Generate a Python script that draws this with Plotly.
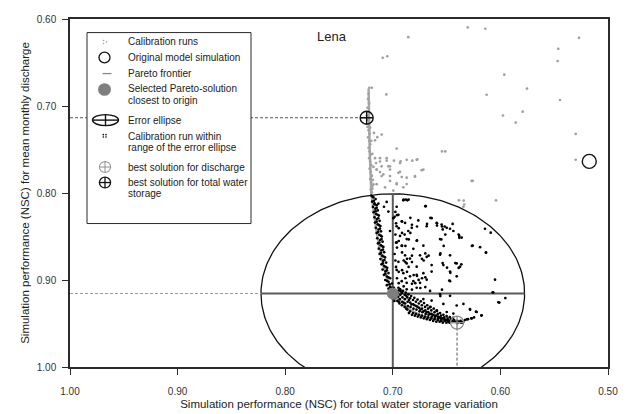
import numpy as np
import plotly.graph_objects as go

# ---------------- data ----------------
x_ticks = [1.00, 0.90, 0.80, 0.70, 0.60, 0.50]
y_ticks = [0.60, 0.70, 0.80, 0.90, 1.00]

# calibration runs outside the error ellipse (grey)
calib_x = [0.6304, 0.6140, 0.6856, 0.5270, 0.5462, 0.5468, 0.7051, 0.7094, 0.5964, 0.5753,
           0.6128, 0.7060, 0.5446, 0.5793, 0.5976, 0.5858, 0.7103, 0.5300, 0.6964, 0.6543,
           0.6512, 0.5300, 0.6257, 0.6385, 0.6336, 0.6041, 0.6341,
           0.7057, 0.6989, 0.6927, 0.6819, 0.6772, 0.7042, 0.6933, 0.6732, 0.7026, 0.6917,
           0.6794, 0.6964, 0.6871, 0.7175, 0.7144, 0.7165, 0.7119, 0.7156, 0.7104, 0.7150,
           0.7119, 0.7026, 0.7196, 0.7104,
           0.7165, 0.7119, 0.7057, 0.7026, 0.6933, 0.6871, 0.6778, 0.7150, 0.7088, 0.7026,
           0.6948, 0.6871, 0.6794, 0.6716, 0.7150, 0.7072, 0.6995, 0.6902, 0.6964, 0.6267,
           0.6344,
           0.7218, 0.7195, 0.7225, 0.7230, 0.7220, 0.7235, 0.7225, 0.7240, 0.7230, 0.7220,
           0.7235, 0.7225, 0.7215, 0.7230, 0.7220, 0.7210, 0.7225, 0.7215, 0.7205, 0.7220,
           0.7210, 0.7200, 0.7215, 0.7205, 0.7195, 0.7210, 0.7200, 0.7190, 0.7205, 0.7195,
           0.7185, 0.7180, 0.7190, 0.7200, 0.7210, 0.7190, 0.7180]
calib_y = [0.6097, 0.6112, 0.6209, 0.6216, 0.6343, 0.6484, 0.6428, 0.6446, 0.6640, 0.6800,
           0.6871, 0.6867, 0.6931, 0.7065, 0.7109, 0.7191, 0.7328, 0.7321, 0.7489, 0.7522,
           0.7522, 0.7618, 0.7860, 0.8084, 0.8132, 0.8084, 0.8087,
           0.7629, 0.7629, 0.7637, 0.7629, 0.7614, 0.7693, 0.7757, 0.7738, 0.7805, 0.7816,
           0.7812, 0.7890, 0.7897, 0.7310, 0.7358, 0.7395, 0.7600, 0.7656, 0.7693, 0.7730,
           0.7760, 0.7730, 0.7805, 0.7805,
           0.7600, 0.7638, 0.7600, 0.7693, 0.7656, 0.7619, 0.7619, 0.7731, 0.7786, 0.7861,
           0.7768, 0.7824, 0.7805, 0.7731, 0.7898, 0.7935, 0.7972, 0.7935, 0.7898, 0.7861,
           0.8158,
           0.679, 0.679, 0.686, 0.692, 0.697, 0.702, 0.707, 0.711, 0.716, 0.720,
           0.724, 0.728, 0.732, 0.736, 0.740, 0.744, 0.748, 0.752, 0.756, 0.760,
           0.764, 0.768, 0.772, 0.776, 0.780, 0.784, 0.788, 0.792, 0.796, 0.799,
           0.785, 0.770, 0.755, 0.740, 0.725, 0.795, 0.790]

# calibration runs within range of the error ellipse (black)
within_x = [0.7200, 0.7180, 0.7160, 0.7192, 0.7170, 0.7150, 0.7185, 0.7162, 0.7140, 0.7178,
            0.7155, 0.7130, 0.7170, 0.7148, 0.7122, 0.7165, 0.7140, 0.7115, 0.7158, 0.7133,
            0.7110, 0.7150, 0.7125, 0.7102, 0.7145, 0.7118, 0.7095, 0.7138, 0.7112, 0.7088,
            0.7130, 0.7105, 0.7080, 0.7122, 0.7098, 0.7072, 0.7115, 0.7090, 0.7062, 0.7105,
            0.7080, 0.7052, 0.7095, 0.7068, 0.7040, 0.7082, 0.7055, 0.7025, 0.7070, 0.7040,
            0.7008, 0.7055, 0.7025, 0.6990, 0.7040, 0.7010, 0.6975,
            0.7190, 0.7176, 0.7168, 0.7150, 0.7160, 0.7142, 0.7135, 0.7150, 0.7128, 0.7120,
            0.7138, 0.7112, 0.7105, 0.7125, 0.7100, 0.7092, 0.7110, 0.7085, 0.7078, 0.7092,
            0.7066, 0.7055, 0.7070, 0.7040, 0.7055, 0.7030, 0.7012, 0.6995,
            0.7020, 0.6995, 0.7005, 0.6970, 0.6980, 0.6985, 0.6955, 0.6950, 0.6958, 0.6940,
            0.6930, 0.6935, 0.6938, 0.6915, 0.6910, 0.6912, 0.6915, 0.6890, 0.6888, 0.6885,
            0.6890, 0.6865, 0.6862, 0.6860, 0.6865, 0.6840, 0.6838, 0.6835, 0.6840, 0.6812,
            0.6810, 0.6808, 0.6812, 0.6785, 0.6782, 0.6780, 0.6785, 0.6758, 0.6755, 0.6752,
            0.6758, 0.6730, 0.6728, 0.6725, 0.6730, 0.6700, 0.6698, 0.6695, 0.6700, 0.6672,
            0.6670, 0.6668, 0.6672, 0.6642, 0.6640, 0.6638, 0.6642, 0.6612, 0.6610, 0.6608,
            0.6612, 0.6582, 0.6580, 0.6578, 0.6582, 0.6552, 0.6550, 0.6548, 0.6552, 0.6522,
            0.6520, 0.6518, 0.6490, 0.6488, 0.6485, 0.6460, 0.6458, 0.6455, 0.6430, 0.6428,
            0.6400, 0.6398, 0.6370, 0.6365, 0.6345, 0.6330, 0.6300, 0.6270, 0.6245,
            0.6968, 0.6945, 0.6925, 0.6900, 0.6875, 0.6875, 0.6850, 0.6850, 0.6825, 0.6822,
            0.6798, 0.6795, 0.6770, 0.6768, 0.6742, 0.6740, 0.6715, 0.6712, 0.6685, 0.6684,
            0.6655, 0.6655, 0.6625, 0.6625, 0.6595, 0.6595, 0.6565, 0.6565, 0.6535, 0.6535,
            0.6505, 0.6502, 0.6475, 0.6472, 0.6445, 0.6415, 0.6385, 0.6355,
            0.6935, 0.6905, 0.6880, 0.6855, 0.6830, 0.6800, 0.6770, 0.6740, 0.6710, 0.6680,
            0.6650, 0.6620, 0.6590, 0.6560, 0.6530, 0.6500, 0.6470, 0.6440,
            0.7134, 0.7057, 0.7082, 0.7041, 0.6964, 0.6902, 0.6865, 0.6694, 0.6948, 0.6995,
            0.6917, 0.6964, 0.6886, 0.6856, 0.6824, 0.6763, 0.6685, 0.6639, 0.6592, 0.6546,
            0.6499, 0.6437, 0.6382, 0.6536, 0.6468, 0.6143, 0.6090, 0.7026, 0.6933, 0.6871,
            0.6778, 0.6964, 0.6917, 0.6809, 0.6716, 0.6561, 0.6360, 0.6258, 0.6189, 0.6134,
            0.6886, 0.6840, 0.6747, 0.6685, 0.6561, 0.6468, 0.6948, 0.6871, 0.6778, 0.6639,
            0.6530, 0.6406, 0.6375, 0.6964, 0.6902, 0.6840, 0.6778, 0.6716, 0.6639, 0.6468,
            0.6050, 0.6917, 0.6871, 0.6809, 0.6747, 0.6685, 0.6468, 0.6406, 0.6948, 0.6871,
            0.6778, 0.6654, 0.6561, 0.6468, 0.6066, 0.6019, 0.6716, 0.6639, 0.6530, 0.6406,
            0.6344, 0.6282, 0.6220, 0.6174, 0.6267, 0.6313, 0.6654, 0.6592, 0.6499, 0.6437,
            0.6072, 0.6010, 0.5954, 0.6283, 0.6227, 0.6177,
            0.6899, 0.6877, 0.6853, 0.6698, 0.6651, 0.6682, 0.6589, 0.6589, 0.6543, 0.6518,
            0.6444, 0.6512, 0.6388, 0.6382, 0.6549, 0.6527, 0.6264, 0.6134, 0.6698, 0.6667,
            0.6558, 0.6729, 0.6713, 0.6537, 0.6419, 0.6363, 0.6496, 0.6388, 0.6837, 0.6822,
            0.6775, 0.6914, 0.6945, 0.6914, 0.6890, 0.6837, 0.6852, 0.6775, 0.6945, 0.6914,
            0.6883, 0.6961, 0.6914, 0.6822, 0.6868, 0.6899, 0.6883, 0.6822, 0.6853, 0.6914,
            0.6868, 0.6945, 0.6806, 0.6775, 0.6729, 0.6698, 0.6760, 0.6883, 0.6899, 0.6822,
            0.6791, 0.6744, 0.6698, 0.6822, 0.6465, 0.6475, 0.6543, 0.6976, 0.6983, 0.6961,
            0.6970, 0.6976, 0.6970, 0.6983, 0.6976, 0.6970, 0.6961, 0.6945, 0.6930, 0.6961,
            0.6558]
within_y = [0.803, 0.805, 0.807, 0.810, 0.812, 0.814, 0.816, 0.818, 0.820, 0.822,
            0.824, 0.826, 0.828, 0.830, 0.832, 0.834, 0.836, 0.838, 0.840, 0.842,
            0.844, 0.846, 0.848, 0.850, 0.852, 0.854, 0.856, 0.858, 0.860, 0.862,
            0.864, 0.866, 0.868, 0.870, 0.872, 0.874, 0.876, 0.878, 0.880, 0.882,
            0.884, 0.886, 0.888, 0.890, 0.892, 0.894, 0.896, 0.898, 0.900, 0.902,
            0.904, 0.906, 0.908, 0.909, 0.910, 0.912, 0.913,
            0.804, 0.809, 0.813, 0.817, 0.821, 0.825, 0.829, 0.833, 0.837, 0.841,
            0.845, 0.849, 0.853, 0.857, 0.861, 0.865, 0.869, 0.873, 0.877, 0.881,
            0.885, 0.889, 0.893, 0.897, 0.901, 0.905, 0.909, 0.911,
            0.915, 0.918, 0.921, 0.917, 0.921, 0.924, 0.915, 0.919, 0.924, 0.912,
            0.917, 0.922, 0.927, 0.915, 0.920, 0.925, 0.929, 0.917, 0.922, 0.927,
            0.931, 0.920, 0.925, 0.930, 0.934, 0.921, 0.926, 0.931, 0.936, 0.923,
            0.928, 0.933, 0.938, 0.925, 0.930, 0.934, 0.939, 0.927, 0.932, 0.936,
            0.940, 0.929, 0.933, 0.937, 0.941, 0.931, 0.935, 0.939, 0.942, 0.933,
            0.937, 0.940, 0.943, 0.935, 0.939, 0.942, 0.944, 0.937, 0.941, 0.943,
            0.945, 0.939, 0.942, 0.944, 0.946, 0.941, 0.944, 0.946, 0.947, 0.943,
            0.945, 0.947, 0.944, 0.946, 0.948, 0.945, 0.947, 0.948, 0.946, 0.948,
            0.947, 0.949, 0.947, 0.949, 0.948, 0.946, 0.945, 0.944, 0.943,
            0.913, 0.925, 0.913, 0.926, 0.918, 0.933, 0.923, 0.938, 0.928, 0.940,
            0.929, 0.941, 0.931, 0.942, 0.934, 0.943, 0.936, 0.944, 0.937, 0.945,
            0.939, 0.946, 0.940, 0.947, 0.941, 0.948, 0.943, 0.948, 0.944, 0.949,
            0.946, 0.949, 0.947, 0.949, 0.947, 0.948, 0.948, 0.949,
            0.9105, 0.9125, 0.9145, 0.9165, 0.9185, 0.9205, 0.9225, 0.9245, 0.9265, 0.9290,
            0.9310, 0.9330, 0.9355, 0.9380, 0.9400, 0.9415, 0.9425, 0.9435,
            0.8121, 0.8103, 0.8158, 0.8214, 0.8158, 0.8084, 0.8084, 0.8151, 0.8251, 0.8289,
            0.8326, 0.8382, 0.8344, 0.8437, 0.8400, 0.8315, 0.8382, 0.8289, 0.8344, 0.8363,
            0.8400, 0.8437, 0.8493, 0.8419, 0.8411, 0.8411, 0.8456, 0.8437, 0.8493, 0.8530,
            0.8549, 0.8568, 0.8605, 0.8642, 0.8605, 0.8530, 0.8512, 0.8605, 0.8623, 0.8687,
            0.8716, 0.8754, 0.8716, 0.8735, 0.8709, 0.8716, 0.8791, 0.8810, 0.8847, 0.8828,
            0.8828, 0.8810, 0.8847, 0.8884, 0.8921, 0.8958, 0.8940, 0.8921, 0.8903, 0.8903,
            0.8996, 0.9014, 0.9033, 0.9014, 0.9033, 0.8996, 0.9014, 0.8958, 0.9089, 0.9107,
            0.9089, 0.9126, 0.9163, 0.9182, 0.9144, 0.9256, 0.9219, 0.9237, 0.9275, 0.9293,
            0.9275, 0.9342, 0.9368, 0.9405, 0.9442, 0.9453, 0.9312, 0.9349, 0.9368, 0.9386,
            0.9141, 0.9259, 0.9208, 0.9334, 0.9364, 0.9409,
            0.8076, 0.8076, 0.8076, 0.8151, 0.8285, 0.8355, 0.8348, 0.8374, 0.8385, 0.8385,
            0.8355, 0.8478, 0.8478, 0.8515, 0.8534, 0.8608, 0.8608, 0.8683, 0.8694, 0.8720,
            0.8694, 0.8757, 0.8776, 0.8805, 0.8805, 0.8820, 0.8858, 0.8861, 0.8285, 0.8366,
            0.8385, 0.8329, 0.8404, 0.8459, 0.8478, 0.8459, 0.8534, 0.8545, 0.8552, 0.8608,
            0.8608, 0.8627, 0.8683, 0.8720, 0.8757, 0.8776, 0.8794, 0.8794, 0.8850, 0.8887,
            0.8906, 0.8906, 0.8943, 0.8954, 0.8980, 0.8969, 0.8999, 0.8980, 0.9073, 0.9044,
            0.9036, 0.9092, 0.9081, 0.9111, 0.8917, 0.9006, 0.9111, 0.8218, 0.8274, 0.8255,
            0.8348, 0.8478, 0.8571, 0.8701, 0.8776, 0.8850, 0.8980, 0.9036, 0.9111, 0.9129,
            0.9185]

# Pareto frontier
pareto_x = [0.7225, 0.7215, 0.7200, 0.7175, 0.7150, 0.7120, 0.7085, 0.7040, 0.7010,
            0.6950, 0.6870, 0.6740, 0.6620, 0.6470, 0.6340]
pareto_y = [0.680, 0.750, 0.800, 0.825, 0.845, 0.865, 0.885, 0.903, 0.912,
            0.922, 0.932, 0.941, 0.945, 0.948, 0.949]

original_sim = (0.5174, 0.7637)
selected = (0.7000, 0.9155)
best_discharge = (0.6403, 0.9490)
best_tws = (0.7243, 0.7135)
ellipse_radius = (0.1225, 0.1145)

legend_labels = ["Calibration runs", "Original model simulation", "Pareto frontier",
                 "Selected Pareto-solution", "closest to origin", "Error ellipse",
                 "Calibration run within", "range of the error ellipse",
                 "best solution for discharge", "best solution for total water", "storage"]

# ---------------- layout helpers ----------------
# the page body has an 8 px margin, so the figure is sized to the remaining window
OFF = 8
W_FIG, H_FIG = 631 - OFF, 414 - OFF
ML, MR, MT, MB = 62, 23, 5, 42
PW, PH = W_FIG - ML - MR, H_FIG - MT - MB
FONT = "Liberation Sans, Arial, sans-serif"
DARK = "#2b2b2b"


def pxx(v):
    """window pixel x -> paper x"""
    return (v - OFF - ML) / PW


def pxy(v):
    """window pixel y -> paper y"""
    return 1 - (v - OFF - MT) / PH


fig = go.Figure()

cx, cy = selected
ra, rb = ellipse_radius
x_lo = max(x_ticks)
y_lo = max(y_ticks)

# error ellipse and its axes (traces so they are clipped by the plot area)
t = np.linspace(0, 2 * np.pi, 241)
fig.add_trace(go.Scatter(x=cx + ra * np.cos(t), y=cy + rb * np.sin(t), mode="lines",
                         line=dict(color="#111111", width=1.3), hoverinfo="skip"))
fig.add_trace(go.Scatter(x=[cx + ra, cx - ra], y=[cy, cy], mode="lines",
                         line=dict(color="#5a5a5a", width=2), hoverinfo="skip"))
fig.add_trace(go.Scatter(x=[cx, cx], y=[cy - rb, cy + rb], mode="lines",
                         line=dict(color="#5a5a5a", width=2), hoverinfo="skip"))

# dashed guide lines
fig.add_trace(go.Scatter(x=[x_lo, best_tws[0]], y=[best_tws[1], best_tws[1]], mode="lines",
                         line=dict(color="#555555", width=1, dash="3px,2px"), hoverinfo="skip"))
fig.add_trace(go.Scatter(x=[x_lo, cx + ra], y=[cy, cy], mode="lines",
                         line=dict(color="#9a9a9a", width=1, dash="3px,2px"), hoverinfo="skip"))
fig.add_trace(go.Scatter(x=[best_discharge[0], best_discharge[0]], y=[best_discharge[1], y_lo],
                         mode="lines", line=dict(color="#555555", width=1, dash="3px,2px"),
                         hoverinfo="skip"))

# Pareto frontier
fig.add_trace(go.Scatter(x=pareto_x, y=pareto_y, mode="lines",
                         line=dict(color="#a8a8a8", width=2.5), hoverinfo="skip"))
# calibration runs
fig.add_trace(go.Scatter(x=calib_x, y=calib_y, mode="markers",
                         marker=dict(size=2.7, color="#a0a0a0")))
fig.add_trace(go.Scatter(x=within_x, y=within_y, mode="markers",
                         marker=dict(size=2.7, color="#000000")))
# selected solution
fig.add_trace(go.Scatter(x=[cx], y=[cy], mode="markers",
                         marker=dict(size=12, color="#7f7f7f")))
# best solutions
fig.add_trace(go.Scatter(x=[best_discharge[0]], y=[best_discharge[1]], mode="markers",
                         marker=dict(size=13, symbol="circle-cross-open", color="#8c8c8c",
                                     line=dict(width=1.3))))
fig.add_trace(go.Scatter(x=[best_tws[0]], y=[best_tws[1]], mode="markers",
                         marker=dict(size=13, symbol="circle-cross-open", color="#111111",
                                     line=dict(width=1.4))))
fig.add_trace(go.Scatter(x=[original_sim[0]], y=[original_sim[1]], mode="markers",
                         marker=dict(size=14, symbol="circle-open", color="#111111",
                                     line=dict(width=1.4))))

shapes = []
# legend box
shapes.append(dict(type="rect", xref="paper", yref="paper", x0=pxx(87), x1=pxx(251),
                   y0=pxy(224), y1=pxy(27), fillcolor="white",
                   line=dict(color=DARK, width=1), layer="above"))

sx = 105  # legend symbol centre (window px)


def dot(x, y, r, color):
    shapes.append(dict(type="circle", xref="paper", yref="paper", x0=pxx(x - r), x1=pxx(x + r),
                       y0=pxy(y + r), y1=pxy(y - r), fillcolor=color, line=dict(width=0),
                       layer="above"))


def ring(x, y, r, color, w=1.3, cross=False):
    shapes.append(dict(type="circle", xref="paper", yref="paper", x0=pxx(x - r), x1=pxx(x + r),
                       y0=pxy(y + r), y1=pxy(y - r), fillcolor="rgba(0,0,0,0)",
                       line=dict(color=color, width=w), layer="above"))
    if cross:
        shapes.append(dict(type="line", xref="paper", yref="paper", x0=pxx(x - r), x1=pxx(x + r),
                           y0=pxy(y), y1=pxy(y), line=dict(color=color, width=w), layer="above"))
        shapes.append(dict(type="line", xref="paper", yref="paper", x0=pxx(x), x1=pxx(x),
                           y0=pxy(y - r), y1=pxy(y + r), line=dict(color=color, width=w),
                           layer="above"))


# calibration runs symbol
dot(103.5, 35.2, 0.8, "#a0a0a0")
dot(103.5, 38.2, 0.8, "#a0a0a0")
dot(106.5, 36.7, 0.8, "#a0a0a0")
# original model simulation
ring(sx - 0.5, 52.7, 5.5, "#111111", 1.3)
# pareto frontier
shapes.append(dict(type="line", xref="paper", yref="paper", x0=pxx(102.5), x1=pxx(111.5),
                   y0=pxy(69.3), y1=pxy(69.3), line=dict(color="#8a8a8a", width=1.3),
                   layer="above"))
# selected solution
dot(sx - 0.5, 85.7, 6.5, "#7f7f7f")
# error ellipse
shapes.append(dict(type="circle", xref="paper", yref="paper", x0=pxx(92.5), x1=pxx(118.5),
                   y0=pxy(123), y1=pxy(111.6), line=dict(color="#111111", width=1.4),
                   layer="above"))
shapes.append(dict(type="line", xref="paper", yref="paper", x0=pxx(92.5), x1=pxx(118.5),
                   y0=pxy(117.3), y1=pxy(117.3), line=dict(color="#111111", width=1.4),
                   layer="above"))
shapes.append(dict(type="line", xref="paper", yref="paper", x0=pxx(105.5), x1=pxx(105.5),
                   y0=pxy(123), y1=pxy(111.6), line=dict(color="#111111", width=1.4),
                   layer="above"))
# within-ellipse runs symbol
dot(103.3, 132.3, 0.8, "#000000")
dot(103.3, 134.8, 0.8, "#000000")
dot(106.0, 132.3, 0.8, "#000000")
dot(106.0, 134.8, 0.8, "#000000")
# best solutions
ring(sx, 165.7, 5.6, "#9a9a9a", 1.1, cross=True)
ring(sx, 181.7, 5.6, "#111111", 1.3, cross=True)

annotations = []
legend_y = [36.7, 52.7, 69.3, 85.0, 96.7, 117.3, 133.7, 145.3, 165.7, 181.7, 193.0]
for lab, yy in zip(legend_labels, legend_y):
    annotations.append(dict(text=lab, xref="paper", yref="paper", x=pxx(125.5), y=pxy(yy),
                            xanchor="left", yanchor="middle", showarrow=False,
                            font=dict(family=FONT, size=10, color="#222222")))
annotations.append(dict(text="Lena", xref="paper", yref="paper", x=pxx(332), y=pxy(31.5),
                        xanchor="center", yanchor="middle", showarrow=False,
                        font=dict(family=FONT, size=13, color="#222222")))

fig.update_layout(
    width=W_FIG, height=H_FIG,
    margin=dict(l=ML, r=MR, t=MT, b=MB),
    paper_bgcolor="white", plot_bgcolor="white",
    showlegend=False,
    shapes=shapes, annotations=annotations,
    font=dict(family=FONT, color="#333333"),
)
fig.update_xaxes(range=[1.0, 0.5], tickvals=x_ticks, ticktext=[f"{v:.2f}" for v in x_ticks],
                 showgrid=False, zeroline=False, showline=True, mirror=True,
                 linecolor=DARK, linewidth=1.5, ticks="outside", ticklen=6, tickcolor=DARK,
                 tickwidth=1, tickfont=dict(family=FONT, size=10, color="#333333"),
                 ticklabelstandoff=8,
                 title=dict(text="Simulation performance (NSC) for total water storage variation",
                            font=dict(family=FONT, size=11.5, color="#222222"), standoff=4))
fig.update_yaxes(range=[1.0, 0.6], tickvals=y_ticks, ticktext=[f"{v:.2f}" for v in y_ticks],
                 showgrid=False, zeroline=False, showline=True, mirror=True,
                 linecolor=DARK, linewidth=1.5, ticks="outside", ticklen=6, tickcolor=DARK,
                 tickwidth=1, tickfont=dict(family=FONT, size=10, color="#333333"),
                 ticklabelstandoff=4,
                 title=dict(text="Simulation performance (NSC) for mean monthly discharge",
                            font=dict(family=FONT, size=11.5, color="#222222"), standoff=5))

fig.write_html("out.html")
